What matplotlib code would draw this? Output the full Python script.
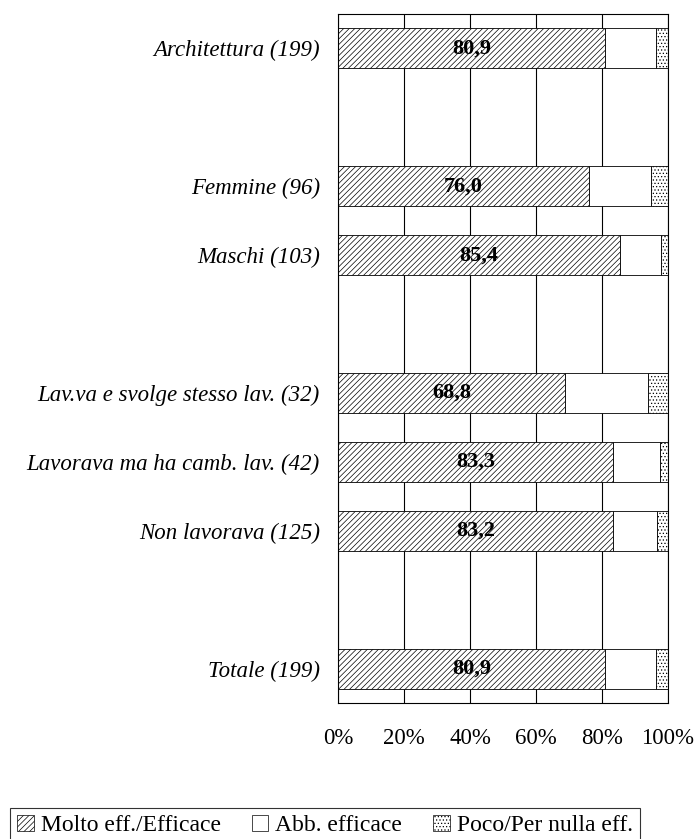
import matplotlib
matplotlib.use("Agg")
import matplotlib.pyplot as plt
from matplotlib.patches import Patch

# categories from bottom to top, "" = empty spacer rows
categories = ["Totale (199)", "", "Non lavorava (125)", "Lavorava ma ha camb. lav. (42)",
              "Lav.va e svolge stesso lav. (32)", "", "Maschi (103)", "Femmine (96)", "",
              "Architettura (199)"]
molto = [80.9, None, 83.2, 83.3, 68.8, None, 85.4, 76.0, None, 80.9]
abb = [15.6, None, 13.6, 14.3, 25.0, None, 12.6, 18.8, None, 15.6]
poco = [3.5, None, 3.2, 2.4, 6.2, None, 1.9, 5.2, None, 3.5]
series_names = ["Molto eff./Efficace", "Abb. efficace", "Poco/Per nulla eff."]
xticks = [0, 20, 40, 60, 80, 100]

plt.rcParams['font.family'] = 'Liberation Serif'
plt.rcParams['hatch.linewidth'] = 0.5

fig = plt.figure(figsize=(6.99, 8.39), dpi=100)
ax = fig.add_axes([338 / 699, 1 - 703 / 839, 330 / 699, 689 / 839])

idx = [i for i, v in enumerate(molto) if v is not None]
ys = idx
m = [molto[i] for i in idx]
a = [abb[i] for i in idx]
p = [poco[i] for i in idx]
left2 = [m[k] + a[k] for k in range(len(m))]

h = 0.58
ax.barh(ys, m, height=h, color='white', edgecolor='black', hatch='//////', linewidth=0.6, zorder=2)
ax.barh(ys, a, left=m, height=h, color='white', edgecolor='black', linewidth=0.6, zorder=2)
ax.barh(ys, p, left=left2, height=h, color='white', edgecolor='black', hatch='.....', linewidth=0.6, zorder=2)

for y, v in zip(ys, m):
    ax.text(v / 2, y, f"{v:.1f}".replace('.', ','), ha='center', va='center',
            fontsize=16, fontweight='bold', zorder=3)

ax.set_xlim(0, 100)
ax.set_ylim(-0.5, len(categories) - 0.5)
ax.set_xticks(xticks)
ax.set_xticklabels([f"{t}%" for t in xticks], fontsize=16.5)
ax.set_yticks(ys)
ax.set_yticklabels([categories[i] for i in idx], fontsize=16.5, style='italic')
ax.tick_params(axis='x', length=0, pad=18)
ax.tick_params(axis='y', length=0, pad=13)
ax.grid(axis='x', color='black', linewidth=0.8)
ax.set_axisbelow(True)
for s in ax.spines.values():
    s.set_color('black')
    s.set_linewidth(0.8)

handles = [Patch(facecolor='white', edgecolor='black', hatch='//////', linewidth=0.5),
           Patch(facecolor='white', edgecolor='black', linewidth=0.5),
           Patch(facecolor='white', edgecolor='black', hatch='.....', linewidth=0.5)]
leg = fig.legend(handles, series_names, loc='lower left', bbox_to_anchor=(10 / 699, -0.005, 630 / 699, 37 / 839),
                 mode='expand', ncol=3, fontsize=17, frameon=True, fancybox=False,
                 handlelength=0.7, handleheight=0.7, handletextpad=0.3, columnspacing=1.0,
                 borderaxespad=0, borderpad=0.3)
leg.get_frame().set_edgecolor('black')
leg.get_frame().set_linewidth(0.8)

fig.savefig("out.png", dpi=100)
